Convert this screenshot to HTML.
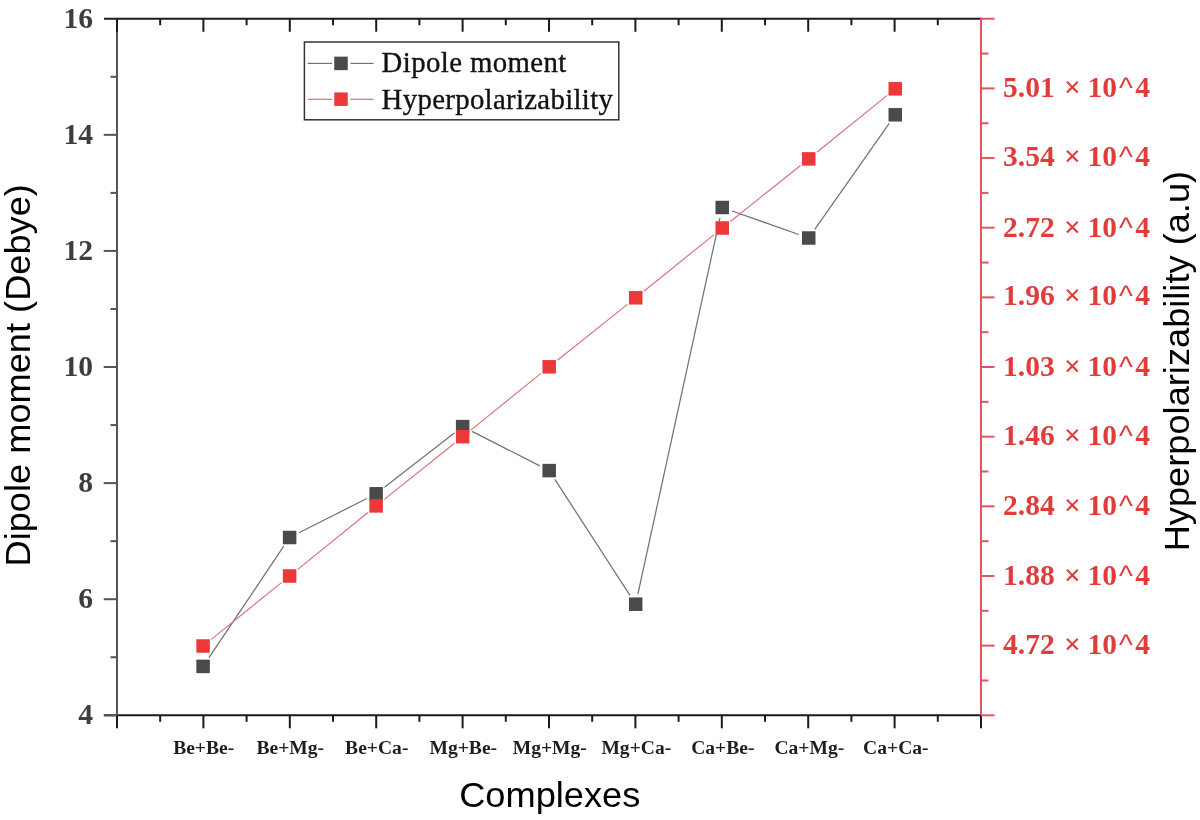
<!DOCTYPE html><html><head><meta charset="utf-8"><title>Dipole moment and Hyperpolarizability</title><style>html,body{margin:0;padding:0;background:#fff;}svg{display:block;}</style></head><body><svg width="1200" height="820" viewBox="0 0 1200 820"><rect width="1200" height="820" fill="#ffffff"/><line x1="208.95" y1="657.68" x2="283.77" y2="546.22" stroke="#737373" stroke-width="1.25"/><line x1="298.99" y1="532.77" x2="366.77" y2="498.53" stroke="#737373" stroke-width="1.25"/><line x1="384.43" y1="487.36" x2="454.37" y2="433.04" stroke="#737373" stroke-width="1.25"/><line x1="472.02" y1="431.36" x2="539.82" y2="465.84" stroke="#737373" stroke-width="1.25"/><line x1="554.89" y1="479.41" x2="629.99" y2="595.39" stroke="#737373" stroke-width="1.25"/><line x1="637.94" y1="593.94" x2="719.98" y2="217.76" stroke="#737373" stroke-width="1.25"/><line x1="732.12" y1="210.99" x2="798.84" y2="234.51" stroke="#737373" stroke-width="1.25"/><line x1="814.77" y1="229.41" x2="889.23" y2="123.39" stroke="#737373" stroke-width="1.25"/><rect x="196.35" y="659.65" width="13.5" height="13.5" fill="#4a4a4a"/><rect x="282.87" y="530.75" width="13.5" height="13.5" fill="#4a4a4a"/><rect x="369.39" y="487.05" width="13.5" height="13.5" fill="#4a4a4a"/><rect x="455.91" y="419.85" width="13.5" height="13.5" fill="#4a4a4a"/><rect x="542.43" y="463.85" width="13.5" height="13.5" fill="#4a4a4a"/><rect x="628.95" y="597.45" width="13.5" height="13.5" fill="#4a4a4a"/><rect x="715.47" y="200.75" width="13.5" height="13.5" fill="#4a4a4a"/><rect x="801.99" y="231.25" width="13.5" height="13.5" fill="#4a4a4a"/><rect x="888.51" y="108.05" width="13.5" height="13.5" fill="#4a4a4a"/><line x1="211.26" y1="639.40" x2="281.46" y2="582.60" stroke="#d7707a" stroke-width="1.15"/><line x1="297.78" y1="569.39" x2="367.98" y2="512.51" stroke="#d7707a" stroke-width="1.15"/><line x1="384.34" y1="499.34" x2="454.46" y2="443.26" stroke="#d7707a" stroke-width="1.15"/><line x1="470.83" y1="430.10" x2="541.01" y2="373.40" stroke="#d7707a" stroke-width="1.15"/><line x1="557.39" y1="360.25" x2="627.49" y2="304.35" stroke="#d7707a" stroke-width="1.15"/><line x1="643.87" y1="291.21" x2="714.05" y2="234.59" stroke="#d7707a" stroke-width="1.15"/><line x1="730.42" y1="221.45" x2="800.54" y2="165.45" stroke="#d7707a" stroke-width="1.15"/><line x1="816.90" y1="152.29" x2="887.10" y2="95.41" stroke="#d7707a" stroke-width="1.15"/><rect x="196.35" y="639.25" width="13.5" height="13.5" fill="#ec3838"/><rect x="282.87" y="569.25" width="13.5" height="13.5" fill="#ec3838"/><rect x="369.39" y="499.15" width="13.5" height="13.5" fill="#ec3838"/><rect x="455.91" y="429.95" width="13.5" height="13.5" fill="#ec3838"/><rect x="542.43" y="360.05" width="13.5" height="13.5" fill="#ec3838"/><rect x="628.95" y="291.05" width="13.5" height="13.5" fill="#ec3838"/><rect x="715.47" y="221.25" width="13.5" height="13.5" fill="#ec3838"/><rect x="801.99" y="152.15" width="13.5" height="13.5" fill="#ec3838"/><rect x="888.51" y="82.05" width="13.5" height="13.5" fill="#ec3838"/><line x1="104.0" y1="18.75" x2="981.0" y2="18.75" stroke="#1a1a1a" stroke-width="2"/><line x1="104.0" y1="715.3" x2="981.0" y2="715.3" stroke="#1a1a1a" stroke-width="2"/><line x1="117.0" y1="18.75" x2="117.0" y2="715.3" stroke="#555555" stroke-width="2"/><line x1="981.0" y1="17.75" x2="981.0" y2="715.3" stroke="#e25560" stroke-width="2"/><line x1="117.00" y1="715.3" x2="117.00" y2="728.3" stroke="#1a1a1a" stroke-width="2"/><line x1="117.00" y1="18.75" x2="117.00" y2="31.75" stroke="#1a1a1a" stroke-width="2"/><line x1="160.20" y1="715.3" x2="160.20" y2="721.8" stroke="#1a1a1a" stroke-width="2"/><line x1="160.20" y1="18.75" x2="160.20" y2="25.25" stroke="#1a1a1a" stroke-width="2"/><line x1="203.40" y1="715.3" x2="203.40" y2="728.3" stroke="#1a1a1a" stroke-width="2"/><line x1="203.40" y1="18.75" x2="203.40" y2="31.75" stroke="#1a1a1a" stroke-width="2"/><line x1="246.60" y1="715.3" x2="246.60" y2="721.8" stroke="#1a1a1a" stroke-width="2"/><line x1="246.60" y1="18.75" x2="246.60" y2="25.25" stroke="#1a1a1a" stroke-width="2"/><line x1="289.80" y1="715.3" x2="289.80" y2="728.3" stroke="#1a1a1a" stroke-width="2"/><line x1="289.80" y1="18.75" x2="289.80" y2="31.75" stroke="#1a1a1a" stroke-width="2"/><line x1="333.00" y1="715.3" x2="333.00" y2="721.8" stroke="#1a1a1a" stroke-width="2"/><line x1="333.00" y1="18.75" x2="333.00" y2="25.25" stroke="#1a1a1a" stroke-width="2"/><line x1="376.20" y1="715.3" x2="376.20" y2="728.3" stroke="#1a1a1a" stroke-width="2"/><line x1="376.20" y1="18.75" x2="376.20" y2="31.75" stroke="#1a1a1a" stroke-width="2"/><line x1="419.40" y1="715.3" x2="419.40" y2="721.8" stroke="#1a1a1a" stroke-width="2"/><line x1="419.40" y1="18.75" x2="419.40" y2="25.25" stroke="#1a1a1a" stroke-width="2"/><line x1="462.60" y1="715.3" x2="462.60" y2="728.3" stroke="#1a1a1a" stroke-width="2"/><line x1="462.60" y1="18.75" x2="462.60" y2="31.75" stroke="#1a1a1a" stroke-width="2"/><line x1="505.80" y1="715.3" x2="505.80" y2="721.8" stroke="#1a1a1a" stroke-width="2"/><line x1="505.80" y1="18.75" x2="505.80" y2="25.25" stroke="#1a1a1a" stroke-width="2"/><line x1="549.00" y1="715.3" x2="549.00" y2="728.3" stroke="#1a1a1a" stroke-width="2"/><line x1="549.00" y1="18.75" x2="549.00" y2="31.75" stroke="#1a1a1a" stroke-width="2"/><line x1="592.20" y1="715.3" x2="592.20" y2="721.8" stroke="#1a1a1a" stroke-width="2"/><line x1="592.20" y1="18.75" x2="592.20" y2="25.25" stroke="#1a1a1a" stroke-width="2"/><line x1="635.40" y1="715.3" x2="635.40" y2="728.3" stroke="#1a1a1a" stroke-width="2"/><line x1="635.40" y1="18.75" x2="635.40" y2="31.75" stroke="#1a1a1a" stroke-width="2"/><line x1="678.60" y1="715.3" x2="678.60" y2="721.8" stroke="#1a1a1a" stroke-width="2"/><line x1="678.60" y1="18.75" x2="678.60" y2="25.25" stroke="#1a1a1a" stroke-width="2"/><line x1="721.80" y1="715.3" x2="721.80" y2="728.3" stroke="#1a1a1a" stroke-width="2"/><line x1="721.80" y1="18.75" x2="721.80" y2="31.75" stroke="#1a1a1a" stroke-width="2"/><line x1="765.00" y1="715.3" x2="765.00" y2="721.8" stroke="#1a1a1a" stroke-width="2"/><line x1="765.00" y1="18.75" x2="765.00" y2="25.25" stroke="#1a1a1a" stroke-width="2"/><line x1="808.20" y1="715.3" x2="808.20" y2="728.3" stroke="#1a1a1a" stroke-width="2"/><line x1="808.20" y1="18.75" x2="808.20" y2="31.75" stroke="#1a1a1a" stroke-width="2"/><line x1="851.40" y1="715.3" x2="851.40" y2="721.8" stroke="#1a1a1a" stroke-width="2"/><line x1="851.40" y1="18.75" x2="851.40" y2="25.25" stroke="#1a1a1a" stroke-width="2"/><line x1="894.60" y1="715.3" x2="894.60" y2="728.3" stroke="#1a1a1a" stroke-width="2"/><line x1="894.60" y1="18.75" x2="894.60" y2="31.75" stroke="#1a1a1a" stroke-width="2"/><line x1="937.80" y1="715.3" x2="937.80" y2="721.8" stroke="#1a1a1a" stroke-width="2"/><line x1="937.80" y1="18.75" x2="937.80" y2="25.25" stroke="#1a1a1a" stroke-width="2"/><line x1="981.00" y1="715.3" x2="981.00" y2="728.3" stroke="#1a1a1a" stroke-width="2"/><line x1="103.70" y1="715.30" x2="117.0" y2="715.30" stroke="#555555" stroke-width="2"/><line x1="110.50" y1="657.25" x2="117.0" y2="657.25" stroke="#555555" stroke-width="2"/><line x1="103.70" y1="599.21" x2="117.0" y2="599.21" stroke="#555555" stroke-width="2"/><line x1="110.50" y1="541.16" x2="117.0" y2="541.16" stroke="#555555" stroke-width="2"/><line x1="103.70" y1="483.12" x2="117.0" y2="483.12" stroke="#555555" stroke-width="2"/><line x1="110.50" y1="425.07" x2="117.0" y2="425.07" stroke="#555555" stroke-width="2"/><line x1="103.70" y1="367.03" x2="117.0" y2="367.03" stroke="#555555" stroke-width="2"/><line x1="110.50" y1="308.98" x2="117.0" y2="308.98" stroke="#555555" stroke-width="2"/><line x1="103.70" y1="250.93" x2="117.0" y2="250.93" stroke="#555555" stroke-width="2"/><line x1="110.50" y1="192.89" x2="117.0" y2="192.89" stroke="#555555" stroke-width="2"/><line x1="103.70" y1="134.84" x2="117.0" y2="134.84" stroke="#555555" stroke-width="2"/><line x1="110.50" y1="76.80" x2="117.0" y2="76.80" stroke="#555555" stroke-width="2"/><line x1="981.0" y1="715.30" x2="994.50" y2="715.30" stroke="#e25560" stroke-width="2"/><line x1="981.0" y1="680.47" x2="988.50" y2="680.47" stroke="#e25560" stroke-width="2"/><line x1="981.0" y1="645.64" x2="994.50" y2="645.64" stroke="#e25560" stroke-width="2"/><line x1="981.0" y1="610.82" x2="988.50" y2="610.82" stroke="#e25560" stroke-width="2"/><line x1="981.0" y1="575.99" x2="994.50" y2="575.99" stroke="#e25560" stroke-width="2"/><line x1="981.0" y1="541.16" x2="988.50" y2="541.16" stroke="#e25560" stroke-width="2"/><line x1="981.0" y1="506.33" x2="994.50" y2="506.33" stroke="#e25560" stroke-width="2"/><line x1="981.0" y1="471.51" x2="988.50" y2="471.51" stroke="#e25560" stroke-width="2"/><line x1="981.0" y1="436.68" x2="994.50" y2="436.68" stroke="#e25560" stroke-width="2"/><line x1="981.0" y1="401.85" x2="988.50" y2="401.85" stroke="#e25560" stroke-width="2"/><line x1="981.0" y1="367.02" x2="994.50" y2="367.02" stroke="#e25560" stroke-width="2"/><line x1="981.0" y1="332.20" x2="988.50" y2="332.20" stroke="#e25560" stroke-width="2"/><line x1="981.0" y1="297.37" x2="994.50" y2="297.37" stroke="#e25560" stroke-width="2"/><line x1="981.0" y1="262.54" x2="988.50" y2="262.54" stroke="#e25560" stroke-width="2"/><line x1="981.0" y1="227.72" x2="994.50" y2="227.72" stroke="#e25560" stroke-width="2"/><line x1="981.0" y1="192.89" x2="988.50" y2="192.89" stroke="#e25560" stroke-width="2"/><line x1="981.0" y1="158.06" x2="994.50" y2="158.06" stroke="#e25560" stroke-width="2"/><line x1="981.0" y1="123.23" x2="988.50" y2="123.23" stroke="#e25560" stroke-width="2"/><line x1="981.0" y1="88.40" x2="994.50" y2="88.40" stroke="#e25560" stroke-width="2"/><line x1="981.0" y1="53.58" x2="988.50" y2="53.58" stroke="#e25560" stroke-width="2"/><line x1="981.0" y1="18.75" x2="994.50" y2="18.75" stroke="#e25560" stroke-width="2"/><text transform="translate(93,724.30)" text-anchor="end" font-family="Liberation Serif, serif" font-weight="bold" font-size="29.6" fill="#3d3d3d">4</text><text transform="translate(93,608.21)" text-anchor="end" font-family="Liberation Serif, serif" font-weight="bold" font-size="29.6" fill="#3d3d3d">6</text><text transform="translate(93,492.12)" text-anchor="end" font-family="Liberation Serif, serif" font-weight="bold" font-size="29.6" fill="#3d3d3d">8</text><text transform="translate(93,376.03)" text-anchor="end" font-family="Liberation Serif, serif" font-weight="bold" font-size="29.6" fill="#3d3d3d">10</text><text transform="translate(93,259.93)" text-anchor="end" font-family="Liberation Serif, serif" font-weight="bold" font-size="29.6" fill="#3d3d3d">12</text><text transform="translate(93,143.84)" text-anchor="end" font-family="Liberation Serif, serif" font-weight="bold" font-size="29.6" fill="#3d3d3d">14</text><text transform="translate(93,27.75)" text-anchor="end" font-family="Liberation Serif, serif" font-weight="bold" font-size="29.6" fill="#3d3d3d">16</text><text x="1003" y="653.70" font-family="Liberation Serif, serif" font-weight="bold" font-size="29.5" fill="#e03c3c">4.72 <tspan dx="2">×</tspan><tspan dx="-0.6"> 10</tspan><tspan dx="1.8" dy="1" font-family="Liberation Sans, sans-serif" font-weight="normal">^</tspan><tspan dx="2.6" dy="-1">4</tspan></text><text x="1003" y="584.90" font-family="Liberation Serif, serif" font-weight="bold" font-size="29.5" fill="#e03c3c">1.88 <tspan dx="2">×</tspan><tspan dx="-0.6"> 10</tspan><tspan dx="1.8" dy="1" font-family="Liberation Sans, sans-serif" font-weight="normal">^</tspan><tspan dx="2.6" dy="-1">4</tspan></text><text x="1003" y="514.70" font-family="Liberation Serif, serif" font-weight="bold" font-size="29.5" fill="#e03c3c">2.84 <tspan dx="2">×</tspan><tspan dx="-0.6"> 10</tspan><tspan dx="1.8" dy="1" font-family="Liberation Sans, sans-serif" font-weight="normal">^</tspan><tspan dx="2.6" dy="-1">4</tspan></text><text x="1003" y="444.55" font-family="Liberation Serif, serif" font-weight="bold" font-size="29.5" fill="#e03c3c">1.46 <tspan dx="2">×</tspan><tspan dx="-0.6"> 10</tspan><tspan dx="1.8" dy="1" font-family="Liberation Sans, sans-serif" font-weight="normal">^</tspan><tspan dx="2.6" dy="-1">4</tspan></text><text x="1003" y="375.70" font-family="Liberation Serif, serif" font-weight="bold" font-size="29.5" fill="#e03c3c">1.03 <tspan dx="2">×</tspan><tspan dx="-0.6"> 10</tspan><tspan dx="1.8" dy="1" font-family="Liberation Sans, sans-serif" font-weight="normal">^</tspan><tspan dx="2.6" dy="-1">4</tspan></text><text x="1003" y="305.30" font-family="Liberation Serif, serif" font-weight="bold" font-size="29.5" fill="#e03c3c">1.96 <tspan dx="2">×</tspan><tspan dx="-0.6"> 10</tspan><tspan dx="1.8" dy="1" font-family="Liberation Sans, sans-serif" font-weight="normal">^</tspan><tspan dx="2.6" dy="-1">4</tspan></text><text x="1003" y="236.55" font-family="Liberation Serif, serif" font-weight="bold" font-size="29.5" fill="#e03c3c">2.72 <tspan dx="2">×</tspan><tspan dx="-0.6"> 10</tspan><tspan dx="1.8" dy="1" font-family="Liberation Sans, sans-serif" font-weight="normal">^</tspan><tspan dx="2.6" dy="-1">4</tspan></text><text x="1003" y="166.40" font-family="Liberation Serif, serif" font-weight="bold" font-size="29.5" fill="#e03c3c">3.54 <tspan dx="2">×</tspan><tspan dx="-0.6"> 10</tspan><tspan dx="1.8" dy="1" font-family="Liberation Sans, sans-serif" font-weight="normal">^</tspan><tspan dx="2.6" dy="-1">4</tspan></text><text x="1003" y="97.40" font-family="Liberation Serif, serif" font-weight="bold" font-size="29.5" fill="#e03c3c">5.01 <tspan dx="2">×</tspan><tspan dx="-0.6"> 10</tspan><tspan dx="1.8" dy="1" font-family="Liberation Sans, sans-serif" font-weight="normal">^</tspan><tspan dx="2.6" dy="-1">4</tspan></text><text transform="translate(203.70,753.6) scale(1.07,1)" text-anchor="middle" font-family="Liberation Serif, serif" font-weight="bold" font-size="18.3" fill="#1e1e1e">Be+Be-</text><text transform="translate(290.22,753.6) scale(1.07,1)" text-anchor="middle" font-family="Liberation Serif, serif" font-weight="bold" font-size="18.3" fill="#1e1e1e">Be+Mg-</text><text transform="translate(376.74,753.6) scale(1.07,1)" text-anchor="middle" font-family="Liberation Serif, serif" font-weight="bold" font-size="18.3" fill="#1e1e1e">Be+Ca-</text><text transform="translate(463.26,753.6) scale(1.07,1)" text-anchor="middle" font-family="Liberation Serif, serif" font-weight="bold" font-size="18.3" fill="#1e1e1e">Mg+Be-</text><text transform="translate(549.78,753.6) scale(1.07,1)" text-anchor="middle" font-family="Liberation Serif, serif" font-weight="bold" font-size="18.3" fill="#1e1e1e">Mg+Mg-</text><text transform="translate(636.30,753.6) scale(1.07,1)" text-anchor="middle" font-family="Liberation Serif, serif" font-weight="bold" font-size="18.3" fill="#1e1e1e">Mg+Ca-</text><text transform="translate(722.82,753.6) scale(1.07,1)" text-anchor="middle" font-family="Liberation Serif, serif" font-weight="bold" font-size="18.3" fill="#1e1e1e">Ca+Be-</text><text transform="translate(809.34,753.6) scale(1.07,1)" text-anchor="middle" font-family="Liberation Serif, serif" font-weight="bold" font-size="18.3" fill="#1e1e1e">Ca+Mg-</text><text transform="translate(895.86,753.6) scale(1.07,1)" text-anchor="middle" font-family="Liberation Serif, serif" font-weight="bold" font-size="18.3" fill="#1e1e1e">Ca+Ca-</text><text transform="translate(549.75,806.6) scale(1.05,1)" text-anchor="middle" font-family="Liberation Sans, Arial, sans-serif" font-size="34.5" fill="#000">Complexes</text><text transform="translate(30.1,375.3) rotate(-90) scale(1.05,1)" text-anchor="middle" font-family="Liberation Sans, Arial, sans-serif" font-size="34.5" fill="#000">Dipole moment (Debye)</text><text transform="translate(1189.2,361.1) rotate(-90) scale(1.05,1)" text-anchor="middle" font-family="Liberation Sans, Arial, sans-serif" font-size="34.5" fill="#000">Hyperpolarizability (a.u)</text><rect x="304.4" y="42" width="314.4" height="77.8" fill="#fff" stroke="#333" stroke-width="1.5"/><line x1="307.6" y1="63.4" x2="332" y2="63.4" stroke="#737373" stroke-width="1.2"/><line x1="350.5" y1="63.4" x2="373.6" y2="63.4" stroke="#737373" stroke-width="1.2"/><rect x="334.25" y="56.65" width="13.5" height="13.5" fill="#4a4a4a"/><line x1="307.6" y1="99.3" x2="332" y2="99.3" stroke="#d7707a" stroke-width="1.2"/><line x1="350.5" y1="99.3" x2="373.6" y2="99.3" stroke="#d7707a" stroke-width="1.2"/><rect x="334.25" y="92.45" width="13.5" height="13.5" fill="#ec3838"/><text x="381.6" y="72.3" font-family="Liberation Serif, serif" font-size="28.8" letter-spacing="0.4" fill="#111" stroke="#111" stroke-width="0.35">Dipole moment</text><text x="381.6" y="109.4" font-family="Liberation Serif, serif" font-size="28.8" letter-spacing="0.32" fill="#111" stroke="#111" stroke-width="0.35">Hyperpolarizability</text></svg></body></html>
